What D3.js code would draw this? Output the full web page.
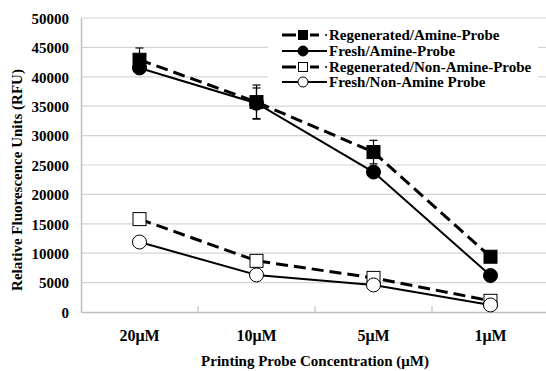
<!DOCTYPE html>
<html>
<head>
<meta charset="utf-8">
<script src="https://cdn.jsdelivr.net/npm/d3@7"></script>
<style>
  html, body { margin: 0; padding: 0; background: #fff; }
  svg { display: block; }
  text { font-family: "Liberation Serif", "Times New Roman", serif; font-weight: bold; fill: #000; }
</style>
</head>
<body>
<svg id="chart" width="546" height="371"></svg>
<script>
const categories = ["20\u03bcM", "10\u03bcM", "5\u03bcM", "1\u03bcM"];
const yTicks = [0, 5000, 10000, 15000, 20000, 25000, 30000, 35000, 40000, 45000, 50000];

const seriesNames = ["Regenerated/Amine-Probe", "Fresh/Amine-Probe", "Regenerated/Non-Amine-Probe", "Fresh/Non-Amine Probe"];
const regenAmine = [42900, 35700, 27200, 9400];
const freshAmine = [41500, 35500, 23800, 6200];
const regenNonAmine = [15800, 8700, 5800, 1900];
const freshNonAmine = [11900, 6300, 4600, 1200];
const regenAmineErr = [2000, 2900, 2000, 0];
const freshAmineErr = [0, 2600, 0, 0];
const regenNonAmineErr = [0, 0, 0, 0];
const freshNonAmineErr = [0, 0, 0, 0];

const series = [
  { name: seriesNames[0], values: regenAmine, err: regenAmineErr, shape: "square", fill: "#000", dashed: true },
  { name: seriesNames[1], values: freshAmine, err: freshAmineErr, shape: "circle", fill: "#000", dashed: false },
  { name: seriesNames[2], values: regenNonAmine, err: regenNonAmineErr, shape: "square", fill: "#fff", dashed: true },
  { name: seriesNames[3], values: freshNonAmine, err: freshNonAmineErr, shape: "circle", fill: "#fff", dashed: false }
];

const svg = d3.select("#chart");
const plot = { left: 81, right: 549, top: 18, bottom: 312 };

const x = d3.scaleBand().domain(categories).range([plot.left, plot.right]).paddingInner(0).paddingOuter(0);
const y = d3.scaleLinear().domain([0, 50000]).range([plot.bottom, plot.top]);
const cx = c => x(c) + x.bandwidth() / 2;

// gridlines
svg.append("g")
  .selectAll("line").data(yTicks.filter(d => d > 0)).join("line")
  .attr("x1", plot.left).attr("x2", plot.right)
  .attr("y1", d => y(d)).attr("y2", d => y(d))
  .attr("stroke", "#d4d4d4").attr("stroke-width", 1.2);

// y axis
const yAxis = d3.axisLeft(y).tickValues(yTicks).tickSize(0).tickPadding(12).tickFormat(d3.format("d"));
const gy = svg.append("g").attr("transform", `translate(${plot.left},0)`).call(yAxis);
gy.select(".domain").attr("stroke", "#bfbfbf").attr("stroke-width", 1.5);
gy.selectAll("text").style("font-size", "15px").attr("dy", "0.35em");

// x axis
const xAxis = d3.axisBottom(x).tickSize(0).tickPadding(18);
const gx = svg.append("g").attr("transform", `translate(0,${plot.bottom})`).call(xAxis);
gx.select(".domain").attr("stroke", "#bfbfbf").attr("stroke-width", 1.5);
gx.selectAll("text").style("font-size", "16px");
// category boundary ticks (inside)
gx.append("g").selectAll("line").data(categories.slice(1)).join("line")
  .attr("x1", d => x(d)).attr("x2", d => x(d))
  .attr("y1", 0).attr("y2", -6)
  .attr("stroke", "#bfbfbf").attr("stroke-width", 1.2);

// axis titles
svg.append("text")
  .attr("transform", `translate(22,180) rotate(-90)`)
  .attr("text-anchor", "middle")
  .style("font-size", "15px")
  .text("Relative Fluorescence Units (RFU)");
svg.append("text")
  .attr("x", (plot.left + plot.right) / 2).attr("y", 366)
  .attr("text-anchor", "middle")
  .style("font-size", "15px")
  .text("Printing Probe Concentration (\u03bcM)");

// legend background
const lg = svg.append("g");
lg.append("rect").attr("x", 268).attr("y", 25).attr("width", 270).attr("height", 66).attr("fill", "#fff");

// series
const line = d3.line().x((d, i) => cx(categories[i])).y(d => y(d));

function drawMarker(g, shape, fill, px, py, size) {
  if (shape === "square") {
    g.append("rect").attr("x", px - size / 2).attr("y", py - size / 2)
      .attr("width", size).attr("height", size)
      .attr("fill", fill).attr("stroke", "#000").attr("stroke-width", 1);
  } else {
    g.append("circle").attr("cx", px).attr("cy", py).attr("r", size / 2 + 0.5)
      .attr("fill", fill).attr("stroke", "#000").attr("stroke-width", 1);
  }
}

series.forEach(s => {
  const g = svg.append("g");
  // error bars
  s.values.forEach((v, i) => {
    const e = s.err[i];
    if (!e) return;
    const px = cx(categories[i]);
    g.append("line").attr("x1", px).attr("x2", px).attr("y1", y(v - e)).attr("y2", y(v + e))
      .attr("stroke", "#000").attr("stroke-width", 1.2);
    [v - e, v + e].forEach(t => {
      g.append("line").attr("x1", px - 4).attr("x2", px + 4).attr("y1", y(t)).attr("y2", y(t))
        .attr("stroke", "#000").attr("stroke-width", 1.2);
    });
  });
  g.append("path").datum(s.values).attr("d", line)
    .attr("fill", "none").attr("stroke", "#000")
    .attr("stroke-width", s.dashed ? 3 : 2)
    .attr("stroke-dasharray", s.dashed ? "12,6" : null);
  s.values.forEach((v, i) => drawMarker(g, s.shape, s.fill, cx(categories[i]), y(v), 13));
});

// legend entries
const legendY = [35, 51, 67, 82];
series.forEach((s, i) => {
  const ly = legendY[i];
  const g = lg.append("g");
  if (s.dashed) {
    g.append("line").attr("x1", 282).attr("x2", 296).attr("y1", ly).attr("y2", ly).attr("stroke", "#000").attr("stroke-width", 3);
    g.append("line").attr("x1", 310).attr("x2", 319).attr("y1", ly).attr("y2", ly).attr("stroke", "#000").attr("stroke-width", 3);
    g.append("line").attr("x1", 325).attr("x2", 327).attr("y1", ly).attr("y2", ly).attr("stroke", "#000").attr("stroke-width", 1.5);
  } else {
    g.append("line").attr("x1", 282).attr("x2", 327).attr("y1", ly).attr("y2", ly).attr("stroke", "#000").attr("stroke-width", 2);
  }
  drawMarker(g, s.shape, s.fill, 303, ly, 9);
  g.append("text").attr("x", 329).attr("y", ly).attr("dy", "0.35em")
    .style("font-size", "15px").text(s.name);
});
</script>
</body>
</html>
